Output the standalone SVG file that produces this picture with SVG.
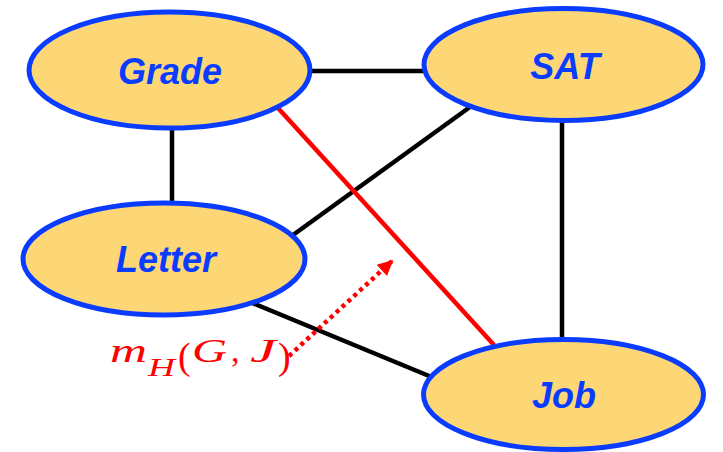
<svg xmlns="http://www.w3.org/2000/svg" width="723" height="452" viewBox="0 0 723 452">
<style>
.node ellipse{fill:#fdd775;stroke:#0a3cff;stroke-width:5}
.node text{font-family:"Liberation Sans",Arial,sans-serif;font-weight:bold;font-style:italic;font-size:36px;fill:#0a3cff;text-anchor:middle}
.edge{stroke:#000;stroke-width:4.5;fill:none}
.red{stroke:#ff0000;stroke-width:4.5;fill:none}
.dot{stroke:#ff0000;stroke-width:4.5;fill:none;stroke-dasharray:4 4}
.lbl{font-family:"Liberation Serif","Times New Roman",serif;fill:#ff0000}
.it{font-style:italic}
</style>
<defs>
<marker id="ah" viewBox="0 0 10 10" refX="9" refY="5" markerWidth="4" markerHeight="3.4" orient="auto" markerUnits="strokeWidth">
<path d="M0,0 L10,5 L0,10 z" fill="#ff0000"/>
</marker>
</defs>
<g id="connectors">
<line class="edge" x1="305" y1="71" x2="428" y2="71"/>
<line class="edge" x1="172" y1="126" x2="172" y2="205"/>
<line class="edge" x1="470" y1="107" x2="293" y2="235"/>
<line class="edge" x1="562" y1="118" x2="562" y2="342"/>
<line class="edge" x1="250" y1="302" x2="434" y2="378"/>
<line class="red" x1="278" y1="108" x2="494" y2="345"/>
<line class="dot" x1="289" y1="356" x2="392" y2="261" marker-end="url(#ah)"/>
</g>
<g id="node-grade" class="node">
<ellipse cx="169.5" cy="70" rx="140.5" ry="58"/>
<text x="170" y="84">Grade</text>
</g>
<g id="node-sat" class="node">
<ellipse cx="563.5" cy="64.5" rx="139.5" ry="56"/>
<text x="565" y="79">SAT</text>
</g>
<g id="node-letter" class="node">
<ellipse cx="164" cy="259" rx="141" ry="56"/>
<text x="166" y="272">Letter</text>
</g>
<g id="node-job" class="node">
<ellipse cx="563.5" cy="394.5" rx="140" ry="55"/>
<text x="564" y="408">Job</text>
</g>
<g id="label-mh">
<text class="lbl it" x="110" y="362" font-size="34" textLength="37" lengthAdjust="spacingAndGlyphs">m</text>
<text class="lbl it" x="148" y="376" font-size="25" textLength="27" lengthAdjust="spacingAndGlyphs">H</text>
<text class="lbl" x="178" y="369" font-size="38">(</text>
<text class="lbl it" x="192" y="362" font-size="34" textLength="35" lengthAdjust="spacingAndGlyphs">G</text>
<text class="lbl" x="231" y="362" font-size="34">,</text>
<text class="lbl it" x="250" y="362" font-size="34" textLength="26" lengthAdjust="spacingAndGlyphs">J</text>
<text class="lbl" x="278" y="369" font-size="38">)</text>
</g>
</svg>
